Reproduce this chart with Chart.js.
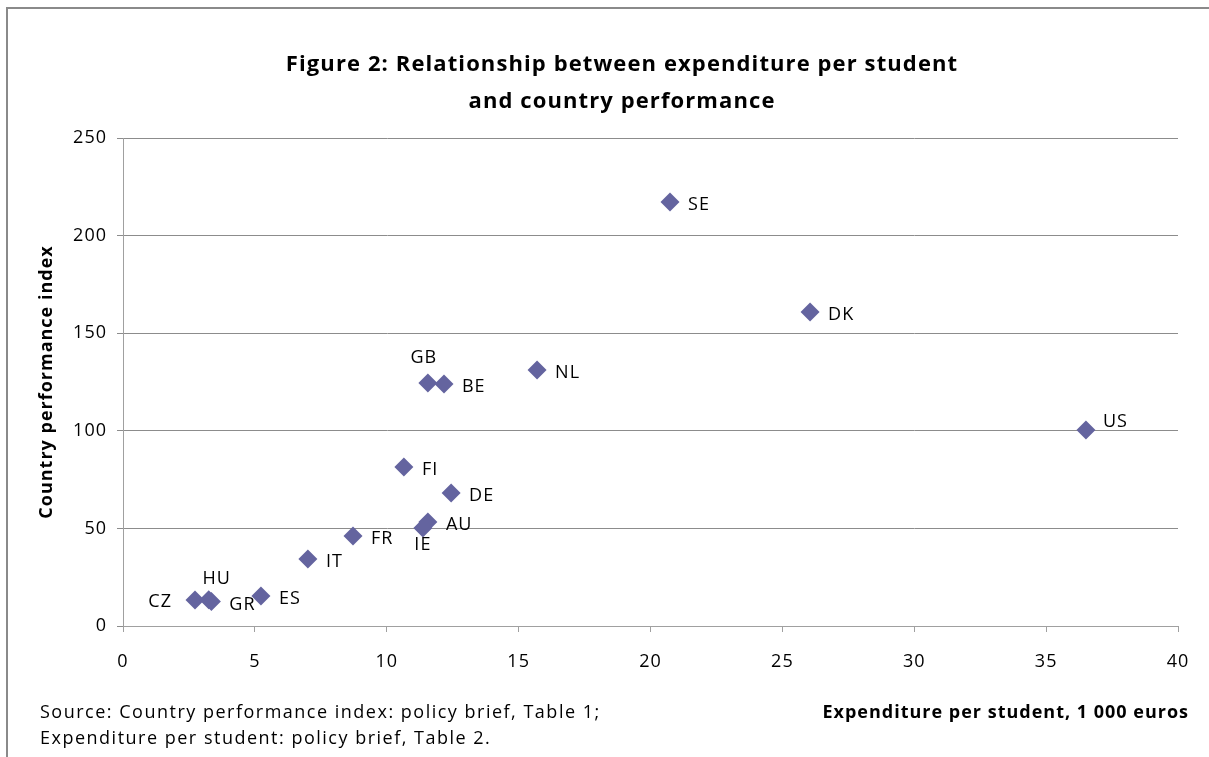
<!DOCTYPE html>
<html><head><meta charset="utf-8">
<script src="https://cdn.jsdelivr.net/npm/chart.js@4.4.1/dist/chart.umd.min.js"></script>
<style>html,body{margin:0;padding:0;background:#fff;} canvas{display:block;}</style>
</head><body><canvas id="c" width="1209" height="757"></canvas>
<script>
// ---- data ----
const countries   = ['CZ','HU','GR','ES','IT','FR','FI','IE','AU','DE','GB','BE','NL','SE','DK','US'];
const expenditure = [2.73, 3.25, 3.35, 5.23, 7.01, 8.72, 10.65, 11.37, 11.56, 12.44, 11.56, 12.17, 15.70, 20.74, 26.05, 36.51];
const performance = [13.3, 13.5, 12.5, 15.4, 34.3, 46.1, 81.5, 50.2, 53.3, 68.1, 124.5, 124.0, 131.1, 217.2, 160.9, 100.4];
const xTicks = [0,5,10,15,20,25,30,35,40];
const yTicks = [0,50,100,150,200,250];
const titleLines = ['Figure 2: Relationship between expenditure per student', 'and country performance'];
const yTitle = 'Country performance index';
const xTitle = 'Expenditure per student, 1 000 euros';
const sourceLines = ['Source: Country performance index: policy brief, Table 1;', 'Expenditure per student: policy brief, Table 2.'];

// ---- style ----
const FONT = "'Open Sans', sans-serif";
const MARK = '#64649f';
// label placement style: [mode, dx, dy]
const labelPlace = {CZ:['left',-23,2], HU:['above',8,-21], IE:['below',0,17], GB:['above',-4,-25], US:['right',17,-8]};

const pts = expenditure.map((x,i)=>({x, y: performance[i]}));

const decor = {
  id:'decor',
  beforeDraw(chart){
    const ctx = chart.ctx;
    ctx.save();
    ctx.fillStyle='#fff'; ctx.fillRect(0,0,chart.width,chart.height);
    ctx.strokeStyle='#8a8a8a'; ctx.lineWidth=2;
    ctx.beginPath(); ctx.moveTo(7,chart.height); ctx.lineTo(7,8); ctx.lineTo(chart.width,8); ctx.stroke();
    ctx.restore();
    ctx.letterSpacing = '1px';
  },
  afterDraw(chart){
    const ctx = chart.ctx;
    ctx.save();
    ctx.fillStyle='#000';
    ctx.textBaseline='middle';
    ctx.textAlign='center';
    ctx.letterSpacing = '1.1px';
    ctx.font = "bold 22px " + FONT;
    ctx.fillText(titleLines[0], 622, 65);
    ctx.fillText(titleLines[1], 622, 102);
    ctx.font = "18px " + FONT;
    ctx.letterSpacing = '1.5px';
    ctx.textAlign='left';
    ctx.fillText(sourceLines[0], 40, 713);
    ctx.fillText(sourceLines[1], 40, 739);
    ctx.font = "bold 18px " + FONT;
    ctx.letterSpacing = '1px';
    ctx.textAlign='right';
    ctx.fillText(xTitle, 1189, 713);
    ctx.restore();
  },
  afterDatasetsDraw(chart){
    const ctx = chart.ctx;
    const meta = chart.getDatasetMeta(0);
    ctx.save();
    ctx.font = "18px " + FONT;
    ctx.letterSpacing = '1px';
    ctx.fillStyle = '#000';
    ctx.textBaseline='middle';
    meta.data.forEach((el,i)=>{
      const name = countries[i];
      const [mode, dx, dy] = labelPlace[name] || ['right',18,3];
      ctx.textAlign = mode==='left' ? 'right' : (mode==='right' ? 'left' : 'center');
      ctx.fillText(name, el.x + dx, el.y + dy);
    });
    ctx.restore();
  }
};

new Chart(document.getElementById('c'), {
  type:'scatter',
  data:{ datasets:[{ label:'Countries', data: pts, pointStyle:'rectRot', pointRadius:9.5, pointHoverRadius:9.5,
    backgroundColor: MARK, borderColor: MARK, borderWidth:0 }]},
  options:{
    responsive:false, animation:false, devicePixelRatio:1,
    layout:{ padding:{ top:138, right:31, left:0, bottom:0 } },
    plugins:{ legend:{display:false}, tooltip:{enabled:false}, title:{display:false} },
    scales:{
      x:{ type:'linear', min:0, max:40,
        afterBuildTicks: s => { s.ticks = xTicks.map(v=>({value:v})); },
        afterFit: s => { s.height = 131; },
        ticks:{ color:'#000', font:{family:FONT, size:18}, padding:19, maxRotation:0, autoSkip:false },
        grid:{ drawOnChartArea:false, drawTicks:true, tickLength:6, color:'#a0a0a0' },
        border:{ color:'#a0a0a0', width:1 } },
      y:{ type:'linear', min:0, max:250,
        afterBuildTicks: s => { s.ticks = yTicks.map(v=>({value:v})); },
        afterFit: s => { s.width = 123; },
        ticks:{ color:'#000', font:{family:FONT, size:18}, padding:10, autoSkip:false },
        grid:{ drawTicks:true, tickLength:6, color:'#8c8c8c' },
        border:{ color:'#a0a0a0', width:1 },
        title:{ display:true, text:yTitle, color:'#000', font:{family:FONT, size:18, weight:'bold'}, padding:{top:36, bottom:0} } }
    }
  },
  plugins:[decor]
});
</script></body></html>
